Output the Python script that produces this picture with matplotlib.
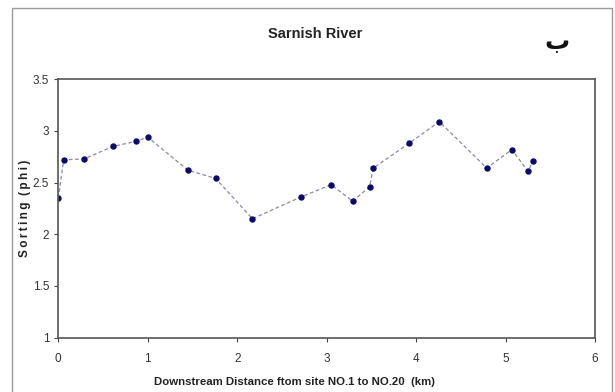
import matplotlib
matplotlib.use("Agg")
import matplotlib.pyplot as plt
from matplotlib.patches import Rectangle

# Sarnish River sorting values, site NO.1 to NO.20
distance_km = [0.0, 0.06, 0.29, 0.61, 0.87, 1.0, 1.45, 1.76, 2.17, 2.71,
               3.05, 3.29, 3.48, 3.52, 3.92, 4.26, 4.79, 5.07, 5.25, 5.31]
sorting_phi = [2.35, 2.72, 2.73, 2.85, 2.90, 2.94, 2.62, 2.54, 2.15, 2.36,
               2.48, 2.32, 2.46, 2.64, 2.88, 3.09, 2.64, 2.82, 2.61, 2.71]

x_ticks = [0, 1, 2, 3, 4, 5, 6]
y_ticks = [1, 1.5, 2, 2.5, 3, 3.5]
y_tick_labels = ["1", "1.5", "2", "2.5", "3", "3.5"]

plt.rcParams["font.family"] = ["Liberation Sans", "DejaVu Sans"]

fig = plt.figure(figsize=(6.15, 3.92), dpi=100)
# outer chart-area frame
fig.patches.append(Rectangle((12 / 615, -0.05), 612 / 615 - 12 / 615, 1 - 8 / 392 + 0.05,
                             transform=fig.transFigure, fill=False,
                             edgecolor="#9a9a9a", linewidth=1.0))

ax = fig.add_axes([0.0948, 0.1388, 0.8727, 0.6589])
ax.plot(distance_km, sorting_phi, linestyle=(0, (3, 2)), color="#8a8aa8", linewidth=0.9,
        marker="o", markersize=3.6, markerfacecolor="#0a0a6e", markeredgecolor="#0a0a6e")

ax.set_xlim(0, 6)
ax.set_ylim(1, 3.5)
ax.set_xticks(x_ticks)
ax.set_yticks(y_ticks)
ax.set_yticklabels(y_tick_labels)
ax.tick_params(axis="both", direction="out", length=3, width=0.8, colors="#444444",
               labelsize=8.5, labelcolor="#333333")
ax.tick_params(axis="x", pad=8)
for side in ["left", "bottom", "top", "right"]:
    ax.spines[side].set_color("#555555")
    ax.spines[side].set_linewidth(1.2)

fig.text(294 / 615, 1 - 382 / 392, "Downstream Distance ftom site NO.1 to NO.20  (km)",
         ha="center", va="center", fontsize=8.2, fontweight="bold", color="#222222")
thin = "\u2009"
fig.text(25 / 615, 1 - 208 / 392, thin.join("Sorting") + "  " + thin.join("(phi)"),
         ha="center", va="center", rotation=90, fontsize=8.5, fontweight="bold",
         color="#222222")

fig.text(315 / 615, 1 - 34 / 392, "Sarnish River", ha="center", va="center", fontsize=10.5,
         fontweight="bold", color="#222222")
fig.text(557 / 615, 1 - 42 / 392, "ب", ha="center", va="center", fontsize=18,
         fontweight="bold", color="#111111", family="DejaVu Sans")

fig.savefig("out.png", dpi=100)
